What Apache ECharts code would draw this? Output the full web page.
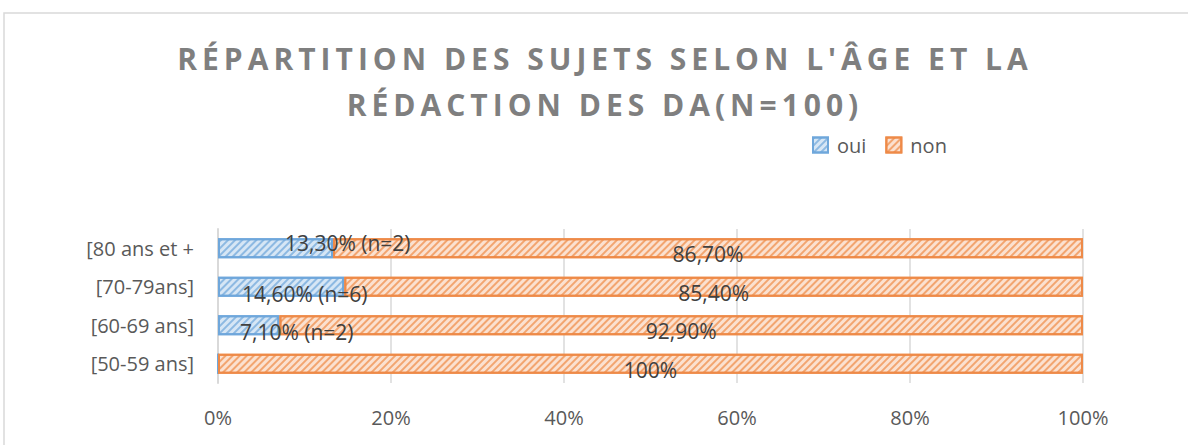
<!DOCTYPE html>
<html>
<head>
<meta charset="utf-8">
<script src="https://cdn.jsdelivr.net/npm/echarts@6/dist/echarts.min.js"></script>
<style>
  html, body { margin: 0; padding: 0; background: #fff; }
  #chart { width: 1188px; height: 445px; }
  /* only the title is bold: give it the wide tracking of the original */
  #chart text[style*="bold"] { letter-spacing: 5px; }
</style>
</head>
<body>
<div id="chart"></div>
<script>
// categories bottom -> top (category axis starts at the bottom)
var categories = ['[50-59 ans]', '[60-69 ans]', '[70-79ans]', '[80 ans et +']
var ouiValues = [0, 7.1, 14.6, 13.3]
var nonValues = [100, 92.9, 85.4, 86.7]
var ouiLabels = ['', '7,10% (n=2)', '14,60% (n=6)', '13,30% (n=2)']
var nonLabels = ['100%', '92,90%', '85,40%', '86,70%']
var xTicks = [0, 20, 40, 60, 80, 100]

var chart = echarts.init(document.getElementById('chart'), null, { renderer: 'svg' })

// oui labels are shifted around a bit in the original
var ouiOffsets = [[0, 0], [17, 7], [19, 7], [62, -5]]

function hatch(color) {
  return {
    symbol: 'rect',
    color: color,
    dashArrayX: [1, 0],
    dashArrayY: [2, 3],
    rotation: -Math.PI / 4
  }
}

var ouiData = ouiValues.map(function(v, i) {
  return {
    value: v,
    label: { offset: ouiOffsets[i], formatter: ouiLabels[i] }
  }
})
var nonData = nonValues.map(function(v, i) {
  return { value: v, label: { formatter: nonLabels[i] } }
})

chart.setOption({
  animation: false,
  title: {
    text: "RÉPARTITION DES SUJETS SELON L'ÂGE ET LA\nRÉDACTION DES DA(N=100)",
    left: 600,
    textAlign: 'center',
    top: 30,
    textStyle: {
      fontFamily: 'Open Sans',
      fontWeight: 'bold',
      fontSize: 30,
      lineHeight: 46,
      color: '#7f7f7f'
    }
  },
  legend: {
    data: ['oui', 'non'],
    left: 812,
    top: 135,
    padding: 0,
    icon: 'rect',
    itemWidth: 15,
    itemHeight: 15,
    itemGap: 19,
    textStyle: {
      fontFamily: 'Open Sans',
      fontSize: 20,
      color: '#595959',
      padding: [0, 0, 0, 4]
    }
  },
  graphic: [{
    type: 'rect',
    shape: { x: 4, y: 13, width: 1200, height: 460 },
    style: { fill: 'none', stroke: '#d9d9d9', lineWidth: 1.5 },
    silent: true
  }],
  grid: {
    left: 218,
    right: 105,
    top: 229,
    bottom: 62
  },
  xAxis: {
    type: 'value',
    min: 0,
    max: 100,
    interval: 20,
    axisLine: { show: false },
    axisTick: { show: false },
    splitLine: { lineStyle: { color: '#d9d9d9', width: 1.5 } },
    axisLabel: {
      margin: 24,
      fontFamily: 'Open Sans',
      fontSize: 20,
      color: '#595959',
      formatter: function(v) {
        return xTicks.indexOf(v) >= 0 ? v + '%' : ''
      }
    }
  },
  yAxis: {
    type: 'category',
    data: categories,
    axisTick: { show: false },
    axisLine: { show: true, lineStyle: { color: '#d9d9d9', width: 2 } },
    axisLabel: {
      margin: 24,
      fontFamily: 'Open Sans',
      fontSize: 20,
      color: '#595959'
    }
  },
  series: [
    {
      name: 'oui',
      type: 'bar',
      stack: 'total',
      barWidth: 20,
      data: ouiData,
      itemStyle: {
        color: '#d6e6f5',
        borderColor: '#6fa7db',
        borderWidth: 2,
        decal: hatch('rgba(91,155,213,0.6)')
      },
      label: {
        show: true,
        position: 'insideLeft',
        distance: 5,
        fontFamily: 'Open Sans',
        fontSize: 21,
        color: '#404040'
      }
    },
    {
      name: 'non',
      type: 'bar',
      stack: 'total',
      barWidth: 20,
      data: nonData,
      itemStyle: {
        color: '#fbe1d0',
        borderColor: '#ee8a48',
        borderWidth: 2,
        decal: hatch('rgba(237,125,49,0.6)')
      },
      label: {
        show: true,
        position: 'inside',
        offset: [0, 6],
        fontFamily: 'Open Sans',
        fontSize: 21,
        color: '#404040'
      }
    }
  ]
})
</script>
</body>
</html>
